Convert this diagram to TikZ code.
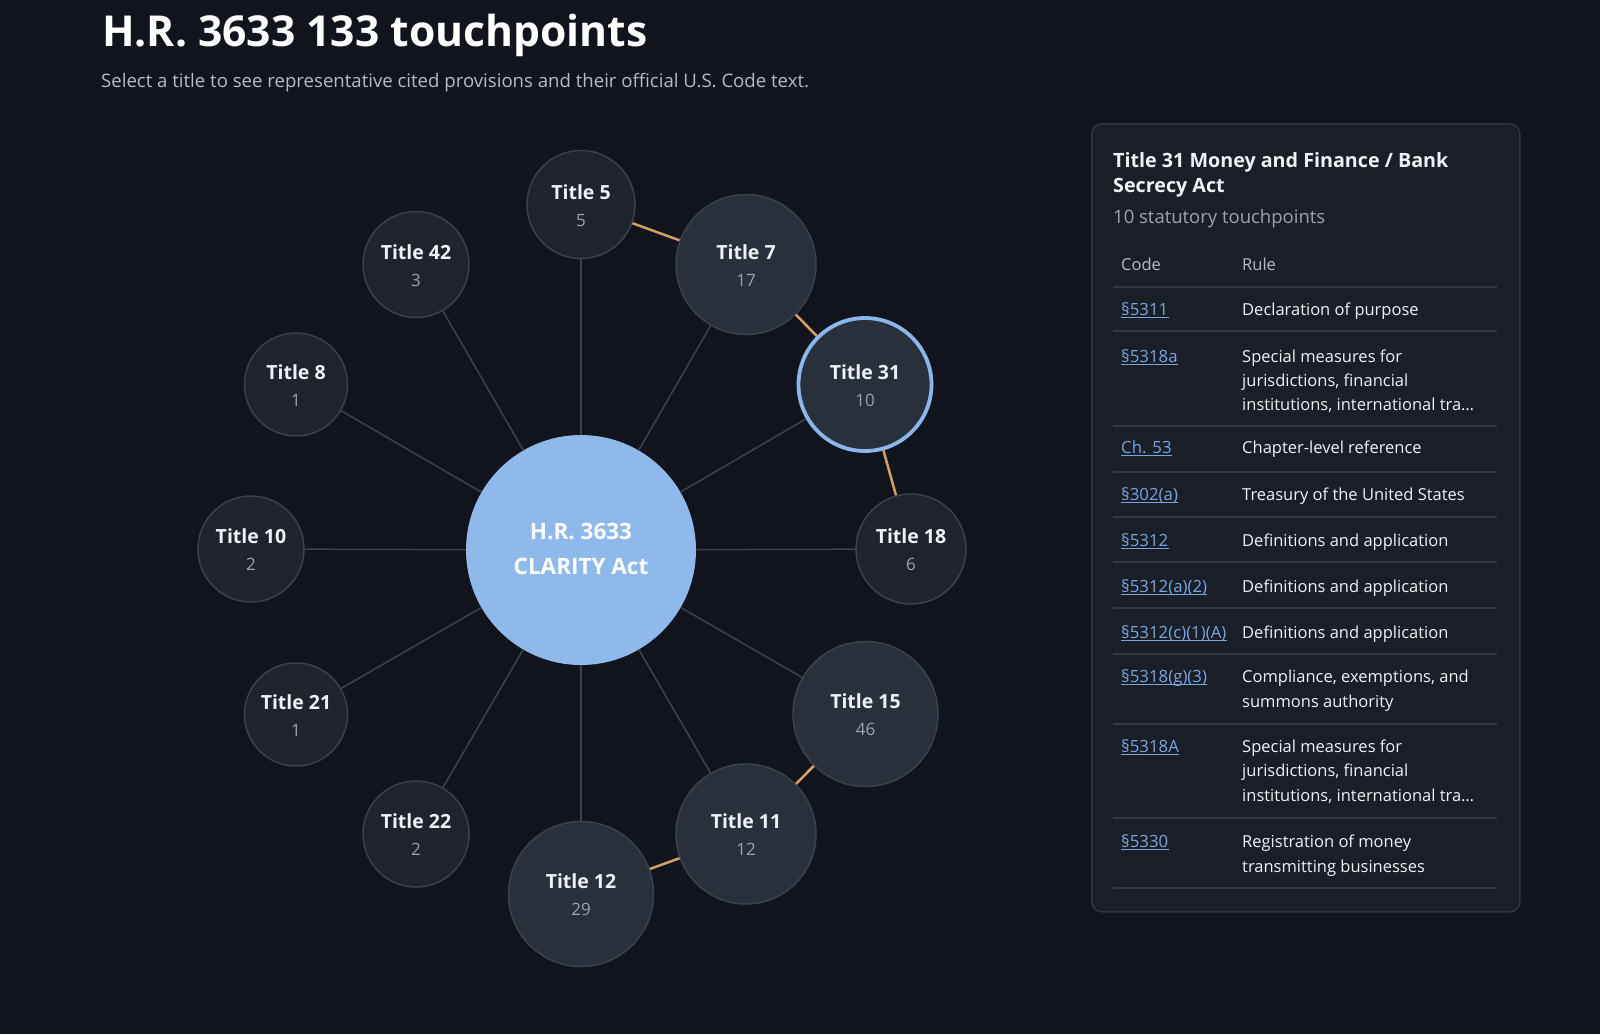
\documentclass[tikz,border=0pt]{standalone}
\usepackage{fontspec}
\setmainfont{Open Sans}
\usetikzlibrary{calc}

\definecolor{bg}{HTML}{11141C}
\definecolor{nfillA}{HTML}{1E232D}
\definecolor{nfillB}{HTML}{28303C}
\definecolor{nborder}{HTML}{3A414B}
\definecolor{hubfill}{HTML}{8FB9EA}
\definecolor{sel}{HTML}{8AB6EA}
\definecolor{spoke}{HTML}{3B424C}
\definecolor{orangec}{HTML}{D4A066}
\definecolor{txtw}{HTML}{EEF2F6}
\definecolor{txtg}{HTML}{9AA3AE}
\definecolor{panelfill}{HTML}{1A1E26}
\definecolor{panelborder}{HTML}{2F3540}
\definecolor{rowline}{HTML}{323945}
\definecolor{linkc}{HTML}{78A5E0}
\definecolor{subg}{HTML}{B4BCC6}

\newcommand\fsz[1]{\fontsize{#1}{#1}\selectfont}
\newcommand\tnode[6]{%
  \node[tcirc,#4,minimum size=#3pt] (#1) at #2 {};
  \node[ttl] (#1-t) at ([yshift=5.5pt]#1.center) {#5};
  \node[tcnt] (#1-c) at ([yshift=-21.5pt]#1.center) {#6};
}
\newcommand\codecell[3]{%
  \node[codetxt] (#1) at (1121,#2) {#3};
  \draw[linkc, line width=1pt] ([yshift=-2.5pt]#1.base west) -- ([yshift=-2.5pt]#1.base east);
}
\newcommand\rtx[3]{\node[ptxt] (#1) at (1242,#2) {#3};}
\newcommand\rowrule[1]{\draw[rowline, line width=1.2pt] (1113,#1) -- (1497,#1);}

\begin{document}
\begin{tikzpicture}[x=1pt, y=-1pt,
  tcirc/.style={circle, draw=nborder, line width=1.5pt, inner sep=0pt},
  smallfill/.style={fill=nfillA},
  bigfill/.style={fill=nfillB},
  ttl/.style={anchor=base, inner sep=0pt, text=txtw, font=\fsz{19.5}\bfseries},
  tcnt/.style={anchor=base, inner sep=0pt, text=txtg, font=\fsz{17}},
  spokeline/.style={draw=spoke, line width=1.5pt},
  chainline/.style={draw=orangec, line width=2.5pt},
  ptxt/.style={anchor=base west, inner sep=0pt, text=txtw, font=\fsz{16.5}},
  codetxt/.style={anchor=base west, inner sep=0pt, text=linkc, font=\fsz{16.8}},
]
\fill[bg] (0,0) rectangle (1600,1034);
\useasboundingbox (0,0) rectangle (1600,1034);

% heading
\node[anchor=base west, inner sep=0pt, text=white, font=\fsz{42.6}\bfseries] (title) at (102,46) {H.R. 3633 133 touchpoints};
\node[anchor=base west, inner sep=0pt, text=subg, font=\fsz{18.6}] (subtitle) at (101,87) {Select a title to see representative cited provisions and their official U.S. Code text.};

% hub
\node[circle, fill=hubfill, minimum size=230pt, inner sep=0pt] (hub) at (581,550) {};
\node[anchor=base, inner sep=0pt, text=white, font=\fsz{22.5}\bfseries] (hub-a) at ([yshift=11pt]hub.center) {H.R. 3633};
\node[anchor=base, inner sep=0pt, text=white, font=\fsz{22.5}\bfseries] (hub-b) at ([yshift=-24pt]hub.center) {CLARITY Act};

% title nodes
\tnode{t5}{(581,204.5)}{108}{smallfill}{Title 5}{5}
\tnode{t7}{(746,264.5)}{140}{bigfill}{Title 7}{17}
\node[circle, draw=sel, line width=3.8pt, fill=nfillB, minimum size=133pt, inner sep=0pt] (t31) at (865,384.5) {};
\node[ttl] (t31-t) at ([yshift=5.5pt]t31.center) {Title 31};
\node[tcnt] (t31-c) at ([yshift=-21.5pt]t31.center) {10};
\tnode{t18}{(911,549)}{110}{smallfill}{Title 18}{6}
\tnode{t15}{(865.5,714)}{145}{bigfill}{Title 15}{46}
\tnode{t11}{(746,834)}{140}{bigfill}{Title 11}{12}
\tnode{t12}{(581,894)}{145}{bigfill}{Title 12}{29}
\tnode{t22}{(416,834)}{106}{smallfill}{Title 22}{2}
\tnode{t21}{(296,714.5)}{103}{smallfill}{Title 21}{1}
\tnode{t10}{(251,549)}{106}{smallfill}{Title 10}{2}
\tnode{t8}{(296,384.5)}{103}{smallfill}{Title 8}{1}
\tnode{t42}{(416,264.5)}{106}{smallfill}{Title 42}{3}

% spokes
\foreach \n in {t5,t7,t31,t18,t15,t11,t12,t22,t21,t10,t8,t42}
  \draw[spokeline] (hub) -- (\n);

% chain links
\draw[chainline] (t5) -- (t7);
\draw[chainline] (t7) -- (t31);
\draw[chainline] (t31) -- (t18);
\draw[chainline] (t15) -- (t11);
\draw[chainline] (t11) -- (t12);

% panel
\node[draw=panelborder, fill=panelfill, rounded corners=10pt, line width=1.5pt,
  minimum width=428pt, minimum height=788pt, anchor=north west, inner sep=0pt] (panel) at (1091,123) {};
\node[anchor=base west, inner sep=0pt, text=txtw, font=\fsz{19.7}\bfseries] (ph1) at (1113,167) {Title 31 Money and Finance / Bank};
\node[anchor=base west, inner sep=0pt, text=txtw, font=\fsz{19.7}\bfseries] (ph2) at (1113,192) {Secrecy Act};
\node[anchor=base west, inner sep=0pt, text=txtg, font=\fsz{18.5}] (pcount) at (1113,223) {10 statutory touchpoints};
\node[ptxt, text=subg] (hcode) at (1121,270) {Code};
\node[ptxt, text=subg] (hrule) at (1242,270) {Rule};
\rowrule{287}

\codecell{c1}{315}{§5311}
\rtx{r1}{315}{Declaration of purpose}
\rowrule{331}
\codecell{c2}{362}{§5318a}
\rtx{r2a}{362}{Special measures for}
\rtx{r2b}{386}{jurisdictions, financial}
\rtx{r2c}{410}{institutions, international tra…}
\rowrule{426}
\codecell{c3}{453}{Ch. 53}
\rtx{r3}{453}{Chapter-level reference}
\rowrule{472}
\codecell{c4}{500}{§302(a)}
\rtx{r4}{500}{Treasury of the United States}
\rowrule{517}
\codecell{c5}{546}{§5312}
\rtx{r5}{546}{Definitions and application}
\rowrule{562}
\codecell{c6}{592}{§5312(a)(2)}
\rtx{r6}{592}{Definitions and application}
\rowrule{608}
\codecell{c7}{638}{§5312(c)(1)(A)}
\rtx{r7}{638}{Definitions and application}
\rowrule{654}
\codecell{c8}{682}{§5318(g)(3)}
\rtx{r8a}{682}{Compliance, exemptions, and}
\rtx{r8b}{707}{summons authority}
\rowrule{724}
\codecell{c9}{752}{§5318A}
\rtx{r9a}{752}{Special measures for}
\rtx{r9b}{776}{jurisdictions, financial}
\rtx{r9c}{801}{institutions, international tra…}
\rowrule{818}
\codecell{c10}{847}{§5330}
\rtx{r10a}{847}{Registration of money}
\rtx{r10b}{872}{transmitting businesses}
\rowrule{888}
\end{tikzpicture}
\end{document}
